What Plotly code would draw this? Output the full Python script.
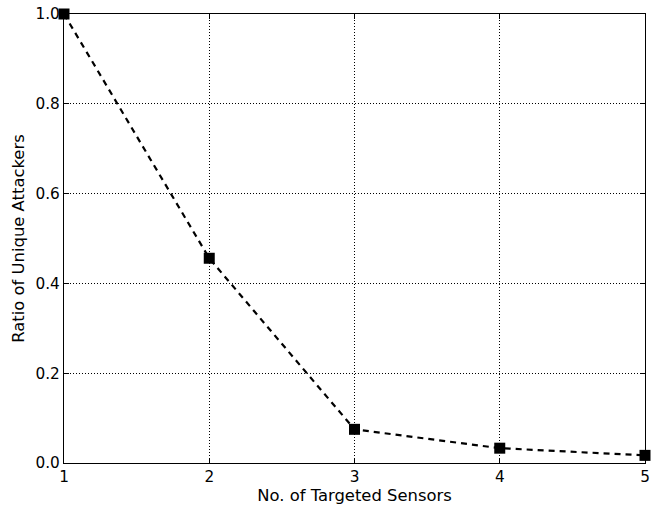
import plotly.graph_objects as go

sensors = [1, 2, 3, 4, 5]
ratio = [1.0, 0.456, 0.075, 0.033, 0.017]
y_ticks = [0.0, 0.2, 0.4, 0.6, 0.8, 1.0]
y_tick_text = ["0.0", "0.2", "0.4", "0.6", "0.8", "1.0"]

fig = go.Figure()
fig.add_trace(go.Scatter(
    x=sensors, y=ratio, mode="lines+markers",
    line=dict(color="black", width=2.2, dash="6px,5px"),
    marker=dict(symbol="square", size=11, color="black"),
    cliponaxis=False, showlegend=False,
))

axis_common = dict(
    showline=True, linecolor="black", linewidth=1.2, mirror="ticks",
    ticks="inside", ticklen=5, tickcolor="black", tickwidth=1,
    showgrid=True, gridcolor="black", gridwidth=0.8, griddash="1px,2px",
    zeroline=False, automargin=False, ticklabeloverflow="allow",
    tickfont=dict(family="DejaVu Sans", size=15.3, color="black"),
    title_font=dict(family="DejaVu Sans", size=16.4, color="black"),
)

fig.update_xaxes(range=[1, 5], tickvals=sensors, ticktext=[str(s) for s in sensors],
                 title_text="No. of Targeted Sensors", title_standoff=4, **axis_common)
fig.update_yaxes(range=[0, 1], tickvals=y_ticks, ticktext=y_tick_text,
                 title_text="Ratio of Unique Attackers", title_standoff=6, **axis_common)

fig.update_layout(
    width=664, height=509,
    margin=dict(l=63.5, r=19, t=13.5, b=46.3),
    plot_bgcolor="white", paper_bgcolor="white",
    font=dict(family="DejaVu Sans", size=15, color="black"),
)

# remove the browser's default 8px body margin so the figure fills the window
fig.write_html("out.html",
               config={"displayModeBar": False},
               post_script="document.body.style.margin='0';document.body.style.overflow='hidden';")
